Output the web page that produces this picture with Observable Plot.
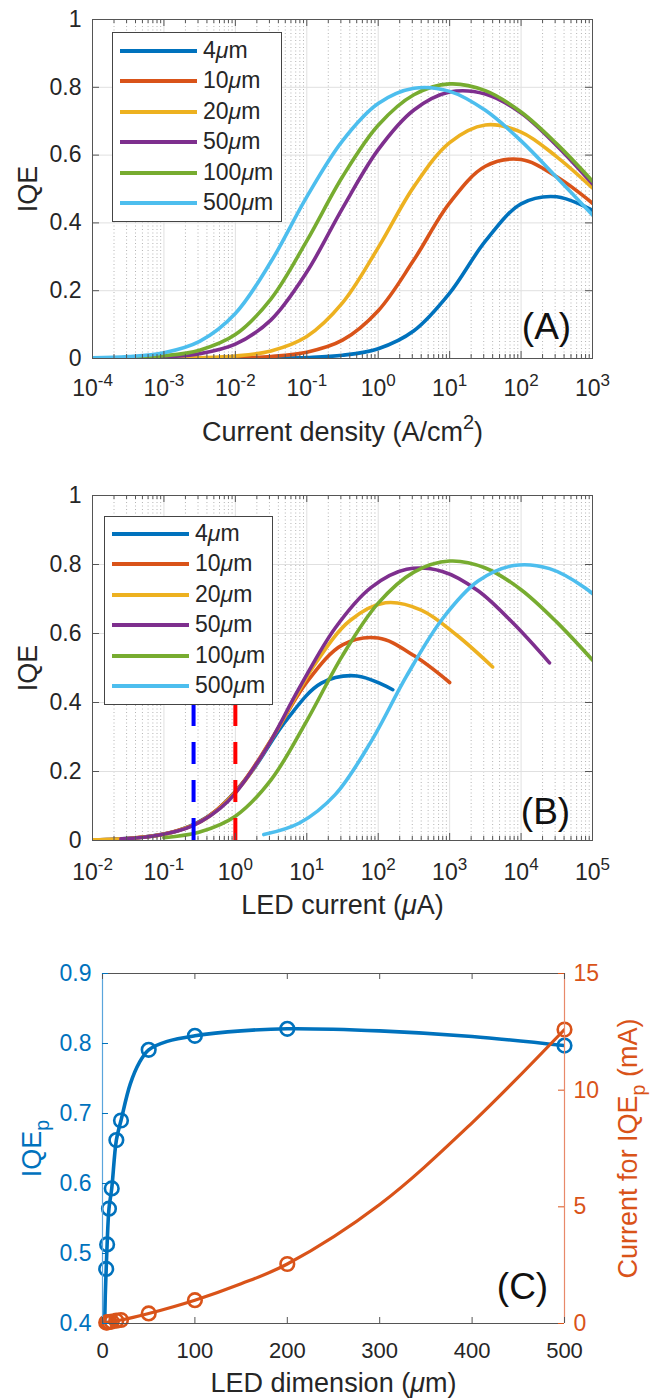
<!DOCTYPE html>
<html><head><meta charset="utf-8">
<script src="https://cdn.jsdelivr.net/npm/d3@7"></script>
<script src="https://cdn.jsdelivr.net/npm/@observablehq/plot@0.6"></script>
<style>
body{margin:0;background:#fff;font-family:"Liberation Sans",Arial,Helvetica,sans-serif;}
#wrap{position:relative;width:665px;height:1399px;overflow:hidden;background:#fff}
.panel{position:absolute;left:0}
.legend{position:absolute;background:#fff;border:1px solid #444;box-sizing:border-box}
.legend .sw{position:absolute;height:4px}
.legend .lab{position:absolute;font-size:23px;line-height:1;color:#262626;white-space:nowrap}
</style></head>
<body><div id="wrap"></div>
<script>
// ---------------- data ----------------
const sizes = ["4", "10", "20", "50", "100", "500"];           // LED dimension, μm
const colors = ["#0072BD", "#D95319", "#EDB120", "#7E2F8E", "#77AC30", "#4DBEEE"];
// current density grid (A/cm²), half-decade steps
const densityGrid = [1e-4, 3.16e-4, 1e-3, 3.16e-3, 1e-2, 3.16e-2, 0.1, 0.316, 1, 3.16, 10, 31.6, 100, 316, 1000];
const iqe4um   = [0.0000, 0.0000, 0.0000, 0.0001, 0.0003, 0.0010, 0.0031, 0.0095, 0.029, 0.082, 0.193, 0.346, 0.456, 0.477, 0.437];
const iqe10um  = [0.0000, 0.0001, 0.0002, 0.0006, 0.0019, 0.0060, 0.0185, 0.054, 0.141, 0.291, 0.459, 0.567, 0.587, 0.536, 0.458];
const iqe20um  = [0.0001, 0.0002, 0.0007, 0.0023, 0.0073, 0.0224, 0.065, 0.164, 0.327, 0.507, 0.637, 0.689, 0.668, 0.595, 0.503];
const iqe50um  = [0.0005, 0.0015, 0.0046, 0.0142, 0.0423, 0.114, 0.255, 0.443, 0.616, 0.733, 0.786, 0.780, 0.724, 0.628, 0.515];
const iqe100um = [0.0008, 0.0026, 0.0080, 0.0246, 0.0705, 0.176, 0.347, 0.536, 0.688, 0.778, 0.810, 0.790, 0.727, 0.633, 0.523];
const iqe500um = [0.0018, 0.0056, 0.0171, 0.0507, 0.133, 0.286, 0.477, 0.642, 0.752, 0.797, 0.788, 0.732, 0.642, 0.534, 0.423];
const iqeSeries = [iqe4um, iqe10um, iqe20um, iqe50um, iqe100um, iqe500um];
// LED current per unit density (μA per A/cm²) = area
const currentPerDensity = [0.16, 1, 4, 25, 100, 2500];
const panelBFirstIndex = 2;                 // panel B curves start at 1e-3 A/cm²
const dashedCurrents = [0.26, 1.0];          // μA
const dashedColors = ["#0000FF", "#FF0000"];
const dashedTop = 0.4;
// panel C
const peakDims = [4, 5, 7, 10, 15, 20, 50, 100, 200, 500];
const peakIQE = [0.478, 0.513, 0.564, 0.593, 0.662, 0.690, 0.791, 0.811, 0.821, 0.797];
const peakCurrentmA = [0.04, 0.05, 0.06, 0.08, 0.12, 0.15, 0.43, 1.0, 2.55, 12.6];
const iqeFitDims = [2, 3, 4, 5, 7, 10, 15, 20, 30, 40, 50, 70, 100, 150, 200, 300, 400, 500];
const iqeFit = [0.37, 0.44, 0.478, 0.513, 0.564, 0.593, 0.662, 0.690, 0.742, 0.773, 0.791, 0.803, 0.811, 0.818, 0.821, 0.818, 0.810, 0.797];
const curFitDims = [4, 5, 7, 10, 15, 20, 50, 100, 150, 200, 300, 400, 500];
const curFitmA = [0.04, 0.05, 0.06, 0.08, 0.12, 0.15, 0.43, 1.0, 1.7, 2.55, 5.1, 8.6, 12.6];
const yTicksAB = [0, 0.2, 0.4, 0.6, 0.8, 1];
const yTicksC = [0.4, 0.5, 0.6, 0.7, 0.8, 0.9];
const yTicksCRight = [0, 5, 10, 15];
const xTicksC = [0, 100, 200, 300, 400, 500];

// ---------------- helpers ----------------
const FONT = '"Liberation Sans", Arial, Helvetica, sans-serif';
const INK = "#262626";
const FRAME = "#555";
const BLUE = colors[0], ORANGE = colors[1];
const TICK_FS = 23, TITLE_FS = 27, LABEL_FS = 37;

function richify(root) {
  d3.select(root).selectAll("text").each(function () {
    const el = this;
    if (el.querySelector("tspan")) return;
    const s = el.textContent;
    if (!/[\^_*]/.test(s)) return;
    const fs = parseFloat(getComputedStyle(el).fontSize) || 16;
    el.textContent = "";
    const re = /\^\{([^}]*)\}|_\{([^}]*)\}|\*([^*]*)\*|([^\^_*]+)/g;
    let m, shift = 0;
    while ((m = re.exec(s))) {
      const t = document.createElementNS("http://www.w3.org/2000/svg", "tspan");
      let target = 0, txt, size = null, italic = false;
      if (m[1] !== undefined) { txt = m[1]; target = -0.45 * fs; size = 0.74 * fs; }
      else if (m[2] !== undefined) { txt = m[2]; target = 0.28 * fs; size = 0.72 * fs; }
      else if (m[3] !== undefined) { txt = m[3]; italic = true; }
      else txt = m[4];
      const dy = target - shift; shift = target;
      if (dy) t.setAttribute("dy", dy);
      if (size) t.setAttribute("font-size", size);
      if (italic) t.setAttribute("font-style", "italic");
      t.textContent = txt;
      el.appendChild(t);
    }
  });
}

function logPanel(o) {
  const W = 665, L = 92, R = 73;
  const decades = d3.range(o.expMin, o.expMax + 1);
  const minors = [];
  for (let e = o.expMin; e < o.expMax; e++) for (let k = 2; k <= 9; k++) minors.push(k * 10 ** e);
  const ph = o.height - o.mt - o.mb, pw = W - L - R;
  const x0 = 10 ** o.expMin, x1 = 10 ** o.expMax;
  const tx = 10 ** (7 * (o.expMax - o.expMin) / pw);
  const marks = [
    Plot.ruleX(minors, {x: d => d, stroke: "#b4b4b4", strokeDasharray: "1,2.5"}),
    Plot.ruleX(decades.slice(1, -1), {x: e => 10 ** e, stroke: "#e0e0e0"}),
    Plot.ruleY(yTicksAB.slice(1, -1), {y: d => d, stroke: "#e0e0e0"})
  ];
  o.series.forEach(s => marks.push(Plot.line(s.rows, {x: "x", y: "y", stroke: s.color, strokeWidth: 3.6, curve: "catmull-rom", clip: true})));
  if (o.after) marks.push(...o.after);
  marks.push(
    Plot.ruleX(decades, {x: e => 10 ** e, y1: () => 0, y2: () => 7 / ph, stroke: FRAME}),
    Plot.ruleX(decades, {x: e => 10 ** e, y1: () => 1, y2: () => 1 - 7 / ph, stroke: FRAME}),
    Plot.ruleX(minors, {x: d => d, y1: () => 0, y2: () => 4 / ph, stroke: FRAME}),
    Plot.ruleX(minors, {x: d => d, y1: () => 1, y2: () => 1 - 4 / ph, stroke: FRAME}),
    Plot.ruleY(yTicksAB, {y: d => d, x1: () => x0, x2: () => x0 * tx, stroke: FRAME}),
    Plot.ruleY(yTicksAB, {y: d => d, x1: () => x1 / tx, x2: () => x1, stroke: FRAME}),
    Plot.frame({stroke: FRAME}),
    Plot.text(yTicksAB, {frameAnchor: "left", y: d => d, text: d => String(d), dx: -11, textAnchor: "end", lineAnchor: "middle", fontSize: TICK_FS, fill: INK}),
    Plot.text(decades, {frameAnchor: "bottom", x: e => 10 ** e, text: e => `10^{${e}}`, dy: o.tickDy, textAnchor: "middle", lineAnchor: "middle", fontSize: TICK_FS, fill: INK}),
    Plot.text(["IQE"], {frameAnchor: "left", dx: -64, rotate: -90, textAnchor: "middle", lineAnchor: "middle", fontSize: TITLE_FS, fill: INK}),
    Plot.text([o.xTitle], {frameAnchor: "bottom", dy: o.titleDy, textAnchor: "middle", lineAnchor: "middle", fontSize: TITLE_FS, fill: INK}),
    Plot.text([o.label], {frameAnchor: "bottom-right", dx: o.labelDx, dy: o.labelDy, fontSize: LABEL_FS, fill: "#111", textAnchor: "middle", lineAnchor: "middle"})
  );
  return Plot.plot({
    width: W, height: o.height, marginLeft: L, marginRight: R, marginTop: o.mt, marginBottom: o.mb,
    x: {type: "log", domain: [x0, x1], axis: null},
    y: {domain: [0, 1], axis: null},
    style: {fontFamily: FONT, background: "transparent", color: INK, overflow: "visible"},
    marks
  });
}

function place(node, top) {
  const d = document.createElement("div");
  d.className = "panel"; d.style.top = top + "px";
  d.appendChild(node);
  document.getElementById("wrap").appendChild(d);
  richify(node);
}

function legend(left, top, width, height, firstY, lineX0, lineX1, textX) {
  const box = document.createElement("div");
  box.className = "legend";
  Object.assign(box.style, {left: left + "px", top: top + "px", width: width + "px", height: height + "px"});
  sizes.forEach((s, i) => {
    const cy = firstY + i * 30.4 - top - 1;
    const sw = document.createElement("div");
    sw.className = "sw";
    Object.assign(sw.style, {left: (lineX0 - left - 1) + "px", width: (lineX1 - lineX0) + "px", top: (cy - 2) + "px", background: colors[i]});
    const lab = document.createElement("div");
    lab.className = "lab";
    lab.innerHTML = `${s}<i>μ</i>m`;
    Object.assign(lab.style, {left: (textX - left - 1) + "px", top: (cy - 12) + "px"});
    box.appendChild(sw); box.appendChild(lab);
  });
  document.getElementById("wrap").appendChild(box);
}

// ---------------- panel A ----------------
const seriesA = iqeSeries.map((vals, s) => ({
  color: colors[s],
  rows: densityGrid.map((j, k) => ({x: j, y: vals[k]}))
}));
place(logPanel({
  height: 450, mt: 19, mb: 92, expMin: -4, expMax: 3, series: seriesA, tickDy: 30,
  xTitle: "Current density (A/cm^{2})", titleDy: 74,
  label: "(A)", labelDx: -46, labelDy: -31
}), 0);

// ---------------- panel B ----------------
const seriesB = iqeSeries.map((vals, s) => ({
  color: colors[s],
  rows: densityGrid.slice(panelBFirstIndex).map((j, k) => ({x: j * currentPerDensity[s], y: vals[k + panelBFirstIndex]}))
}));
const dashed = dashedCurrents.map((c, i) =>
  Plot.ruleX([c], {x: d => d, y1: () => 0, y2: () => dashedTop, stroke: dashedColors[i], strokeWidth: 4, strokeDasharray: "22,16"}));
place(logPanel({
  height: 470, mt: 45, mb: 80, expMin: -2, expMax: 5, series: seriesB, after: dashed, tickDy: 32,
  xTitle: "LED current (*μ*A)", titleDy: 65,
  label: "(B)", labelDx: -47, labelDy: -28
}), 450);

// ---------------- panel C ----------------
const mA = v => 0.4 + v * (0.5 / 15);
const peaks = peakDims.map((d, i) => ({x: d, iqe: peakIQE[i], cur: peakCurrentmA[i]}));
const iqeFitRows = iqeFitDims.map((d, i) => ({x: d, y: iqeFit[i]}));
const curFitRows = curFitDims.map((d, i) => ({x: d, y: curFitmA[i]}));
const phC = 479 - 53 - 76, pwC = 665 - 102 - 101;
const tyC = 6 * 0.5 / phC, txC = 6 * 500 / pwC;
const plotC = Plot.plot({
  width: 665, height: 479, marginLeft: 102, marginRight: 101, marginTop: 53, marginBottom: 76,
  x: {domain: [0, 500], axis: null},
  y: {domain: [0.4, 0.9], axis: null},
  style: {fontFamily: FONT, background: "transparent", color: INK, overflow: "visible"},
  marks: [
    Plot.line(iqeFitRows, {x: "x", y: "y", stroke: BLUE, strokeWidth: 3.6, curve: "catmull-rom", clip: true}),
    Plot.dot(peaks, {x: "x", y: "iqe", r: 6.8, stroke: BLUE, strokeWidth: 2.6, fill: "none"}),
    Plot.line(curFitRows, {x: "x", y: d => mA(d.y), stroke: ORANGE, strokeWidth: 3.2, curve: "catmull-rom", clip: true}),
    Plot.dot(peaks, {x: "x", y: d => mA(d.cur), r: 6.8, stroke: ORANGE, strokeWidth: 2.6, fill: "none"}),
    // frame
    Plot.ruleY([0.9], {y: d => d, stroke: FRAME}),
    Plot.ruleY([0.4], {y: d => d, stroke: FRAME}),
    Plot.ruleX([0], {x: d => d, stroke: "#5aa5dc", strokeWidth: 1.2}),
    Plot.ruleX([500], {x: d => d, stroke: "#e8896a", strokeWidth: 1.2}),
    // ticks
    Plot.ruleX(xTicksC, {x: d => d, y1: () => 0.4, y2: () => 0.4 + tyC, stroke: FRAME}),
    Plot.ruleX(xTicksC, {x: d => d, y1: () => 0.9, y2: () => 0.9 - tyC, stroke: FRAME}),
    Plot.ruleY(yTicksC, {y: d => d, x1: () => 0, x2: () => txC, stroke: BLUE}),
    Plot.ruleY(yTicksCRight, {y: d => mA(d), x1: () => 500 - txC, x2: () => 500, stroke: ORANGE}),
    // labels
    Plot.text(yTicksC, {frameAnchor: "left", y: d => d, text: d => d.toFixed(1), dx: -11, textAnchor: "end", lineAnchor: "middle", fontSize: TICK_FS, fill: BLUE}),
    Plot.text(yTicksCRight, {frameAnchor: "right", y: d => mA(d), text: d => String(d), dx: 9, textAnchor: "start", lineAnchor: "middle", fontSize: TICK_FS, fill: ORANGE}),
    Plot.text(xTicksC, {frameAnchor: "bottom", x: d => d, text: d => String(d), dy: 27, textAnchor: "middle", lineAnchor: "middle", fontSize: 22, fill: INK}),
    Plot.text(["IQE_{p}"], {frameAnchor: "left", dx: -70, rotate: -90, textAnchor: "middle", lineAnchor: "middle", fontSize: TITLE_FS, fill: BLUE}),
    Plot.text(["Current for IQE_{p} (mA)"], {frameAnchor: "right", dx: 64, rotate: -90, textAnchor: "middle", lineAnchor: "middle", fontSize: TITLE_FS, fill: ORANGE}),
    Plot.text(["LED dimension (*μ*m)"], {frameAnchor: "bottom", dy: 60, textAnchor: "middle", lineAnchor: "middle", fontSize: TITLE_FS, fill: INK}),
    Plot.text(["(C)"], {frameAnchor: "bottom-right", dx: -42, dy: -36, fontSize: LABEL_FS, fill: "#111", textAnchor: "middle", lineAnchor: "middle"})
  ]
});
place(plotC, 920);

// ---------------- legends ----------------
legend(112, 32, 170, 190, 51, 120, 197, 203);
legend(104, 516, 169, 189, 534, 112, 189, 195);
</script>
</body></html>
